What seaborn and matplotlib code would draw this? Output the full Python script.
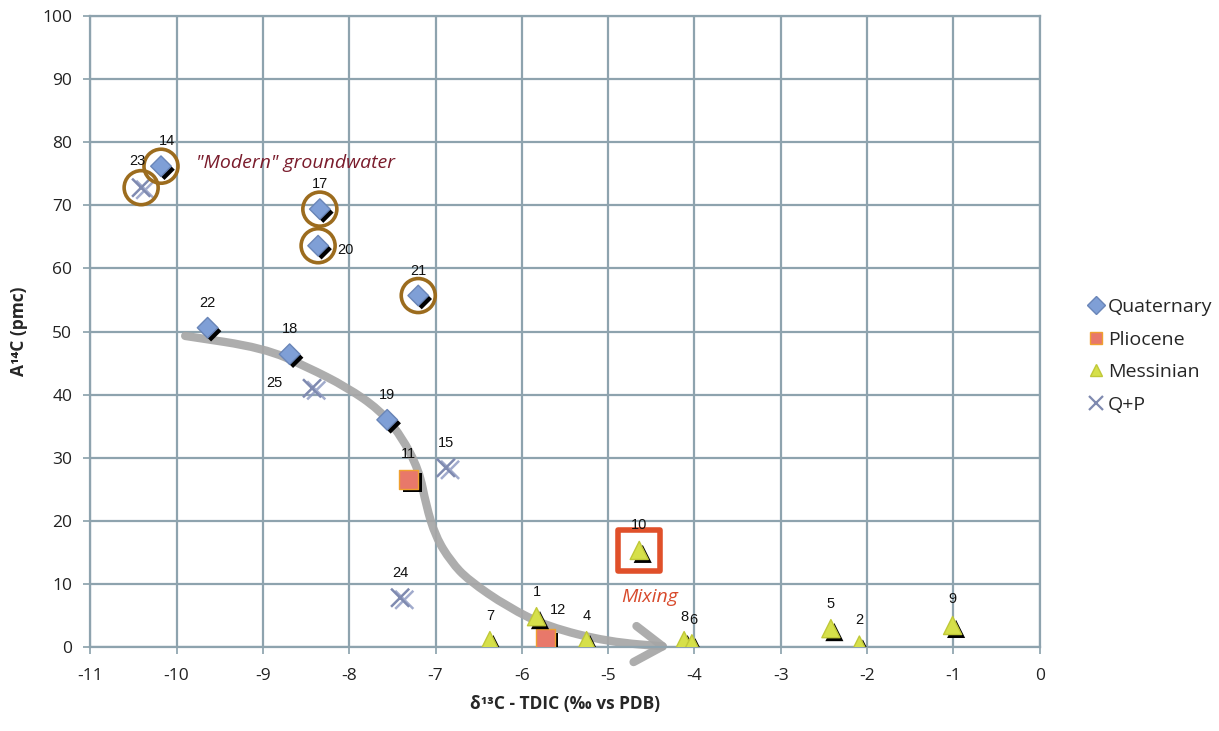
import numpy as np
import pandas as pd
import matplotlib
matplotlib.use("Agg")
import matplotlib.pyplot as plt
import matplotlib.patheffects as pe
from matplotlib.path import Path
from matplotlib.patches import FancyArrowPatch
from matplotlib.lines import Line2D
import seaborn as sns

# ---------------- data ----------------
ids = ["14", "23", "17", "20", "21", "22", "18", "25", "19", "11", "15", "24",
       "10", "7", "1", "12", "4", "8", "6", "5", "2", "9"]
d13c = [-10.18, -10.41, -8.34, -8.36, -7.20, -9.64, -8.69, -8.43, -7.56, -7.31, -6.88, -7.41,
        -4.64, -6.37, -5.83, -5.73, -5.25, -4.12, -4.03, -2.42, -2.09, -1.01]
a14c = [76.2, 72.8, 69.4, 63.6, 55.7, 50.6, 46.4, 41.0, 36.0, 26.6, 28.4, 7.8,
        15.3, 1.0, 4.8, 1.3, 1.0, 1.0, 0.5, 2.9, 0.3, 3.4]
group = ["Quaternary", "Q+P", "Quaternary", "Quaternary", "Quaternary", "Quaternary",
         "Quaternary", "Q+P", "Quaternary", "Pliocene", "Q+P", "Q+P",
         "Messinian", "Messinian", "Messinian", "Pliocene", "Messinian", "Messinian",
         "Messinian", "Messinian", "Messinian", "Messinian"]
modern_ids = ["14", "23", "17", "20", "21"]
mixing_ids = ["10"]

# gray trend arrow: waypoints (data units)
arrow_x = [-9.9, -8.99, -8.49, -8.03, -7.65, -7.40, -7.19, -7.11, -7.00, -6.82, -6.62,
           -6.16, -5.70, -5.00, -4.28]
arrow_y = [49.3, 47.4, 44.4, 41.2, 37.6, 33.5, 28.0, 22.5, 17.5, 13.5, 10.6,
           6.3, 3.2, 0.8, 0.0]

categories = ["Quaternary", "Pliocene", "Messinian", "Q+P"]
x_ticks = list(range(-11, 1))
y_ticks = list(range(0, 101, 10))

# ---------------- style ----------------
palette = {"Quaternary": "#7f9fd6", "Pliocene": "#e8786a",
           "Messinian": "#d6e04a", "Q+P": "#7f8ab0"}
markers = {"Quaternary": "D", "Pliocene": "s", "Messinian": "^", "Q+P": "x"}
edgec = {"Quaternary": "#6a86b8", "Pliocene": "#f0a030",
         "Messinian": "#c0c838", "Q+P": "#7f8ab0"}
sizes = {"Quaternary": 110, "Pliocene": 190, "Messinian": 170, "Q+P": 170}

label_offsets = {"23": (-3, 19), "20": (20, -3), "25": (-27, 4), "12": (9, 21),
                 "14": (4, 18), "8": (0, 17), "6": (1, 17), "9": (0, 19)}

sns.set_theme(style="white")
plt.rcParams["font.family"] = ["Open Sans", "DejaVu Sans"]
plt.rcParams["axes.unicode_minus"] = False

df = pd.DataFrame({"id": ids, "x": d13c, "y": a14c, "group": group})

fig = plt.figure(figsize=(12.19, 7.31), dpi=100)
ax = fig.add_axes([0.074, 0.115, 0.779, 0.863])

ax.set_xlim(-11, 0)
ax.set_ylim(0, 100)
ax.set_xticks(x_ticks)
ax.set_yticks(y_ticks)
ax.grid(True, color="#8ea3ae", linewidth=1.6, zorder=0)
ax.set_axisbelow(True)
for s in ax.spines.values():
    s.set_color("#8ea3ae")
    s.set_linewidth(1.6)

# trend arrow: smooth quadratic path through midpoints of the waypoints
pts = np.column_stack([arrow_x, arrow_y])
verts = [pts[0], (pts[0] + pts[1]) / 2]
codes = [Path.MOVETO, Path.LINETO]
for i in range(1, len(pts) - 1):
    verts += [pts[i], (pts[i] + pts[i + 1]) / 2]
    codes += [Path.CURVE3, Path.CURVE3]
verts.append(pts[-1])
codes.append(Path.LINETO)
arr = FancyArrowPatch(path=Path(verts, codes), arrowstyle="->,head_length=1.0,head_width=0.65",
                      mutation_scale=20, color="#a6a6a6", linewidth=6, alpha=0.92,
                      capstyle="round", joinstyle="round", zorder=2, clip_on=False)
ax.add_patch(arr)

shadow = [pe.SimplePatchShadow(offset=(2.5, -2.5), shadow_rgbFace="black", alpha=1.0), pe.Normal()]
xshadow = [pe.SimpleLineShadow(offset=(3, -1.5), shadow_color="#8a96c0", alpha=0.8), pe.Normal()]
for cat in categories:
    sub = df[df.group == cat]
    if cat == "Q+P":
        sns.scatterplot(data=sub, x="x", y="y", ax=ax, color=palette[cat], marker="x",
                        s=sizes[cat], linewidth=1.8, zorder=4, legend=False)
        ax.collections[-1].set_path_effects(xshadow)
    else:
        sns.scatterplot(data=sub, x="x", y="y", ax=ax, color=palette[cat], marker=markers[cat],
                        s=sizes[cat], edgecolor=edgec[cat], linewidth=1.0, zorder=4, legend=False)
        ax.collections[-1].set_path_effects(shadow)

# highlight rings
mod = df[df.id.isin(modern_ids)]
ax.scatter(mod.x, mod.y, s=600, facecolor="none", edgecolor="#9c6c1e", linewidth=2.6, zorder=5)
mix = df[df.id.isin(mixing_ids)]
ax.scatter(mix.x, mix.y, s=900, marker="s", facecolor="none", edgecolor="#e0502a", linewidth=4, zorder=5)

# point labels
for _, r in df.iterrows():
    dx, dy = label_offsets.get(r.id, (0, 18))
    ax.annotate(r.id, (r.x, r.y), xytext=(dx, dy), textcoords="offset points",
                ha="center", va="center", fontsize=10.5, color="#111111",
                family=["Liberation Sans", "DejaVu Sans"], zorder=6)

ax.text(-9.78, 76.7, '"Modern" groundwater', style="italic", fontsize=14,
        color="#7a1c2c", ha="left", va="center")
ax.text(-4.52, 7.9, "Mixing", style="italic", fontsize=14,
        color="#d84a2c", ha="center", va="center")

ax.tick_params(axis="both", labelsize=12.5, colors="#222222", length=5, color="#8ea3ae",
               direction="out", left=True, bottom=True)
ax.tick_params(axis="x", pad=10)
ax.tick_params(axis="y", pad=8)
ax.set_xlabel("δ¹³C - TDIC (‰ vs PDB)", fontsize=12.5, fontweight="bold", labelpad=8)
ax.set_ylabel("A¹⁴C (pmc)", fontsize=12.5, fontweight="bold", labelpad=10)

# legend
handles = []
for c in categories:
    if c == "Q+P":
        handles.append(Line2D([], [], linestyle="none", marker="x", markersize=10,
                              markeredgecolor=palette[c], markeredgewidth=1.6))
    else:
        handles.append(Line2D([], [], linestyle="none", marker=markers[c], markersize=9,
                              markerfacecolor=palette[c], markeredgecolor=edgec[c],
                              markeredgewidth=1))
fig.legend(handles, categories, loc="center left", bbox_to_anchor=(0.885, 0.513),
           frameon=False, fontsize=14, handletextpad=0.1, labelspacing=0.75,
           handlelength=1.0, borderaxespad=0)

fig.savefig("out.png", dpi=100)
